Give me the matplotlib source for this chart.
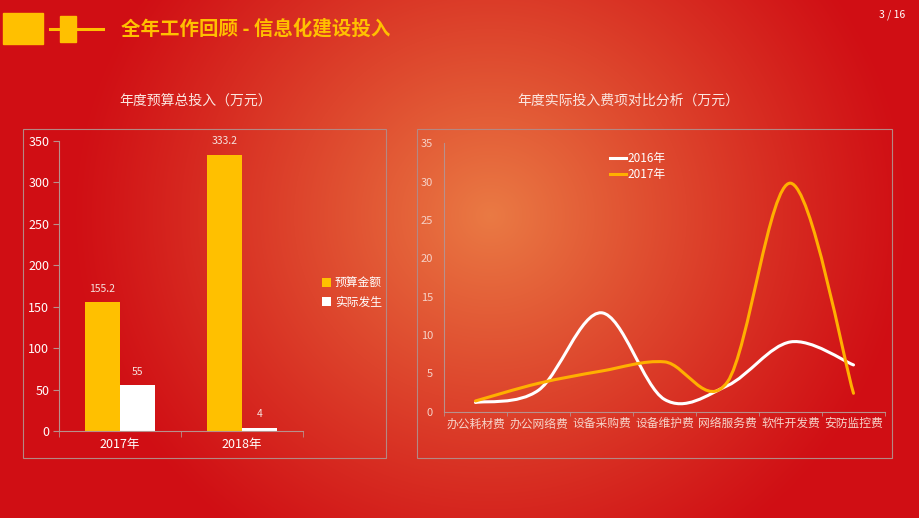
import numpy as np
import matplotlib
matplotlib.use("Agg")
import matplotlib.pyplot as plt
from matplotlib.path import Path
from matplotlib.patches import PathPatch, Rectangle
from matplotlib.lines import Line2D

plt.rcParams['font.family'] = ['Noto Sans CJK SC', 'DejaVu Sans']

# left chart: budget vs actual
years = ["2017年", "2018年"]
budget = [155.2, 333.2]
actual = [55, 4]

# right chart: actual spending by item
items = ["办公耗材费", "办公网络费", "设备采购费", "设备维护费", "网络服务费", "软件开发费", "安防监控费"]
spend_2016 = [1.2, 2.8, 12.9, 1.6, 3.4, 9.1, 6.1]
spend_2017 = [1.4, 3.7, 5.3, 6.5, 3.9, 29.8, 2.4]

GOLD = "#ffc000"
ORANGE = "#ffb000"
PALE = "#f6d2c8"
AXIS = "#b8908c"


def smooth_path(xs, ys):
    # Catmull-Rom style bezier through the points (like Excel's smoothed line)
    pts = np.column_stack([xs, ys]).astype(float)
    ext = np.vstack([pts[0], pts, pts[-1]])
    verts = [tuple(pts[0])]
    codes = [Path.MOVETO]
    for i in range(len(pts) - 1):
        p0, p1, p2, p3 = ext[i], ext[i + 1], ext[i + 2], ext[i + 3]
        c1 = p1 + (p2 - p0) / 6.0
        c2 = p2 - (p3 - p1) / 6.0
        verts += [tuple(c1), tuple(c2), tuple(p2)]
        codes += [Path.CURVE4] * 3
    return Path(verts, codes)


fig = plt.figure(figsize=(9.2, 5.18), dpi=100)

# background radial gradient
bg = fig.add_axes([0, 0, 1, 1], zorder=-10)
H, W = 518, 920
yy, xx = np.mgrid[0:H, 0:W]
d = np.hypot((xx - 490) / 1.0, (yy - 215) / 0.95)
t = np.clip(1 - d / 420.0, 0, 1) ** 1.1
red = np.array([208, 14, 20]) / 255.0
org = np.array([234, 122, 68]) / 255.0
img = red[None, None, :] * (1 - t[..., None]) + org[None, None, :] * t[..., None]
bg.imshow(img, extent=[0, W, H, 0], aspect="auto")
bg.set_xlim(0, W)
bg.set_ylim(H, 0)
bg.axis("off")

# header
bg.add_patch(Rectangle((3, 13), 40, 31, color=GOLD))
bg.plot([50, 103], [29, 29], color=GOLD, lw=2.2)
bg.add_patch(Rectangle((60, 16), 16, 26, color=GOLD))
fig.text(121 / 920, 1 - 29 / 518, "全年工作回顾 - 信息化建设投入", color=GOLD,
         fontsize=14, fontweight="bold", va="center", ha="left")
fig.text(905 / 920, 1 - 15 / 518, "3 / 16", color="white", fontsize=7.5,
         va="center", ha="right")

# chart frames
for x0, x1 in [(23, 386), (417, 892)]:
    bg.add_patch(Rectangle((x0, 129), x1 - x0, 329, fill=False,
                           ec="#b48884", lw=0.8))

fig.text(196 / 920, 1 - 101 / 518, "年度预算总投入（万元）", color="#fbe6e0",
         fontsize=10, ha="center", va="center")
fig.text(628 / 920, 1 - 101 / 518, "年度实际投入费项对比分析（万元）", color="#fbe6e0",
         fontsize=10, ha="center", va="center")

# ---- left bar chart ----
ax1 = fig.add_axes([59 / 920, 1 - 431 / 518, 244 / 920, (431 - 140.7) / 518])
ax1.patch.set_alpha(0)
x = np.arange(len(years))
w = 0.287
b1 = ax1.bar(x - w / 2, budget, w, color=GOLD, label="预算金额")
b2 = ax1.bar(x + w / 2, actual, w, color="white", label="实际发生")
for bars in (b1, b2):
    for r in bars:
        ax1.annotate(f"{r.get_height():g}", (r.get_x() + r.get_width() / 2, r.get_height()),
                     xytext=(0, 6), textcoords="offset points", ha="center", va="bottom",
                     color="#f5e2de", fontsize=7.5)
ax1.set_xlim(-0.5, 1.5)
ax1.set_ylim(0, 350)
ax1.set_yticks(range(0, 351, 50))
ax1.set_xticks(x)
ax1.set_xticklabels(years)
ax1.set_xticks([-0.5, 0.5, 1.5], minor=True)
ax1.tick_params(axis="x", which="major", length=0, colors="white", labelsize=9, pad=5)
ax1.tick_params(axis="x", which="minor", length=4, color=AXIS, direction="out")
ax1.tick_params(axis="y", length=4, color=AXIS, labelcolor="white", labelsize=9, pad=3)
for s in ("top", "right"):
    ax1.spines[s].set_visible(False)
for s in ("left", "bottom"):
    ax1.spines[s].set_color(AXIS)
    ax1.spines[s].set_linewidth(0.8)

leg1 = fig.legend(handles=[b1, b2], loc="center left",
                  bbox_to_anchor=(316 / 920, 1 - 293 / 518), frameon=False,
                  fontsize=8.5, handlelength=0.8, handleheight=0.8, handletextpad=0.3,
                  labelspacing=0.5, borderpad=0)
for txt in leg1.get_texts():
    txt.set_color("white")

# ---- right smoothed line chart ----
ax2 = fig.add_axes([444 / 920, 1 - 411.7 / 518, 441 / 920, (411.7 - 143.3) / 518])
ax2.patch.set_alpha(0)
xi = np.arange(len(items))
ax2.add_patch(PathPatch(smooth_path(xi, spend_2016), fill=False, ec="white", lw=2.2,
                        capstyle="round", joinstyle="round"))
ax2.add_patch(PathPatch(smooth_path(xi, spend_2017), fill=False, ec=ORANGE, lw=2.2,
                        capstyle="round", joinstyle="round"))
ax2.set_xlim(-0.5, len(items) - 0.5)
ax2.set_ylim(0, 35)
ax2.set_yticks(range(0, 36, 5))
ax2.set_xticks(xi)
ax2.set_xticklabels(items)
ax2.set_xticks(np.arange(-0.5, len(items), 1.0), minor=True)
ax2.tick_params(axis="x", which="major", length=0, colors=PALE, labelsize=8.5, pad=4)
ax2.tick_params(axis="x", which="minor", length=3, color=AXIS, direction="out")
ax2.tick_params(axis="y", length=0, labelcolor=PALE, labelsize=8, pad=8)
for s in ("top", "right"):
    ax2.spines[s].set_visible(False)
for s in ("left", "bottom"):
    ax2.spines[s].set_color(AXIS)
    ax2.spines[s].set_linewidth(0.8)

handles = [Line2D([], [], color="white", lw=2.2), Line2D([], [], color=ORANGE, lw=2.2)]
leg2 = fig.legend(handles=handles, labels=["2016年", "2017年"], loc="upper left",
                  bbox_to_anchor=(604 / 920, 1 - 146 / 518), frameon=False,
                  fontsize=8.5, handlelength=1.4, handletextpad=0.1,
                  labelspacing=0.3, borderpad=0)
for txt in leg2.get_texts():
    txt.set_color("white")

fig.savefig("out.png", dpi=100)
